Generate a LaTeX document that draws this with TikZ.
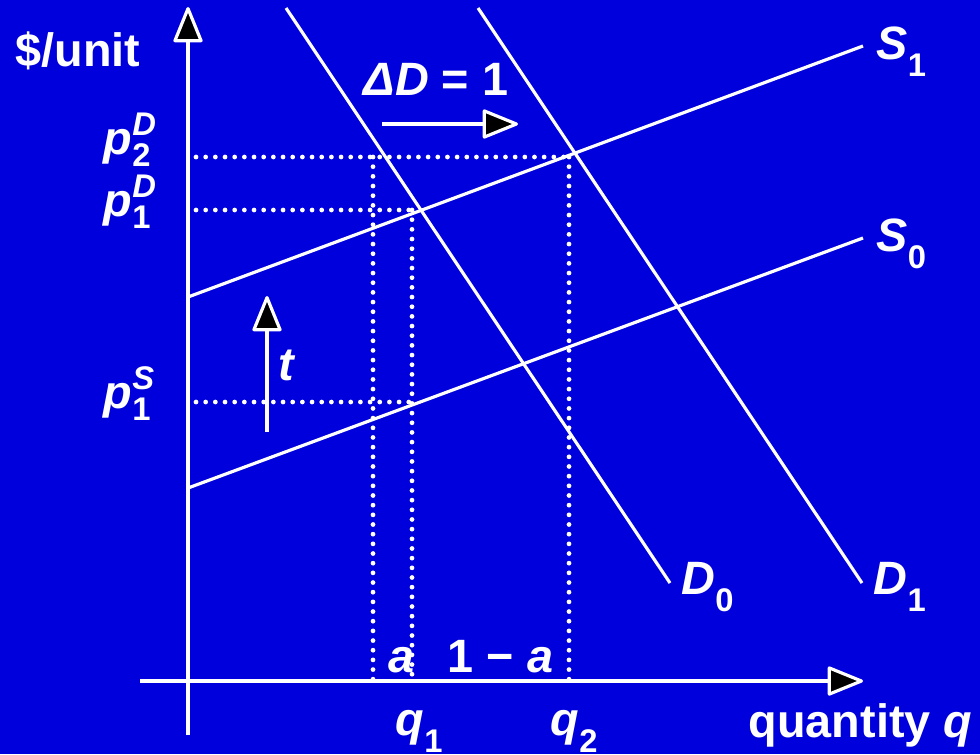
\documentclass[tikz,border=0pt]{standalone}
\usepackage{amsmath}
\usepackage{fontspec}
\setmainfont{Liberation Sans}
\usepackage{tikz}
\usetikzlibrary{arrows.meta}
\definecolor{slideblue}{HTML}{0000DC}
\newcommand{\mi}[1]{\text{\itshape #1}}
\tikzset{
  curve/.style={draw=white,line width=0.9pt},
  guide/.style={draw=white,line width=1.35pt,line cap=round,dash pattern=on 0pt off 2.75pt},
  bigarrow/.style={draw=white,line width=0.9pt,
    -{Triangle[length=0.38cm,width=0.30cm,fill=black,round]}},
  lbl/.style={text=white,font=\fontsize{13.3}{15}\selectfont\bfseries,inner sep=0pt,anchor=base west}
}
\begin{document}
\begin{tikzpicture}[x=0.01cm,y=-0.01cm]
  % Background
  \fill[slideblue] (0,0) rectangle (980,754);
  \useasboundingbox (0,0) rectangle (980,754);
  % Axes
  \coordinate (ybot) at (188,735);
  \coordinate (ytop) at (188,7);
  \coordinate (xleft) at (140,681);
  \coordinate (xright) at (863,681);
  \draw[bigarrow] (ybot) -- (ytop);
  \draw[bigarrow] (xleft) -- (xright);
  % Supply curves
  \coordinate (s1a) at (188,297);
  \coordinate (s1b) at (863,46);
  \coordinate (s0a) at (188,488);
  \coordinate (s0b) at (863,238);
  \draw[curve] (s1a) -- (s1b);
  \draw[curve] (s0a) -- (s0b);
  % Demand curves
  \coordinate (d0a) at (286,8);
  \coordinate (d0b) at (670,583);
  \coordinate (d1a) at (478,8);
  \coordinate (d1b) at (862,583);
  \draw[curve] (d0a) -- (d0b);
  \draw[curve] (d1a) -- (d1b);
  % Dotted guides
  \draw[guide] (196,157) -- (570,157);
  \draw[guide] (196,210) -- (412,210);
  \draw[guide] (196,402) -- (412,402);
  \draw[guide] (373,157) -- (373,681);
  \draw[guide] (412,210) -- (412,681);
  \draw[guide] (569,157) -- (569,681);
  % Shift arrows
  \coordinate (dshA) at (382,124);
  \coordinate (dshB) at (518,124);
  \draw[bigarrow] (dshA) -- (dshB);
  \coordinate (taxA) at (267,432);
  \coordinate (taxB) at (267,296);
  \draw[bigarrow] (taxA) -- (taxB);
  % Labels
  \node[lbl] (yl) at (15,66) {\$/unit};
  \node[lbl] (xl) at (748,737) {quantity \mi{q}};
  \node[lbl] (s1l) at (876,59) {\mi{S}\textsubscript{\raisebox{-0.55ex}{1}}};
  \node[lbl] (s0l) at (876,251) {\mi{S}\textsubscript{\raisebox{-0.55ex}{0}}};
  \node[lbl] (d0l) at (681,594) {\mi{D}\textsubscript{\raisebox{-0.55ex}{0}}};
  \node[lbl] (d1l) at (873,594) {\mi{D}\textsubscript{\raisebox{-0.55ex}{1}}};
  \node[lbl] (dl) at (363,95) {\mi{ΔD} = 1};
  \node[lbl] (tl) at (278,380) {\mi{t}};
  \node[lbl] (p2d) at (103,154) {$\mi{p}^{\mi{D}}_{\text{2}}$};
  \node[lbl] (p1d) at (103,216) {$\mi{p}^{\mi{D}}_{\text{1}}$};
  \node[lbl] (p1s) at (103,408) {$\mi{p}^{\mi{S}}_{\text{1}}$};
  \node[lbl] (al) at (388,672) {\mi{a}};
  \node[lbl] (oal) at (447,672) {1 − \mi{a}};
  \node[lbl] (q1l) at (395,735) {\mi{q}\textsubscript{\raisebox{-0.55ex}{1}}};
  \node[lbl] (q2l) at (550,735) {\mi{q}\textsubscript{\raisebox{-0.55ex}{2}}};
\end{tikzpicture}
\end{document}
